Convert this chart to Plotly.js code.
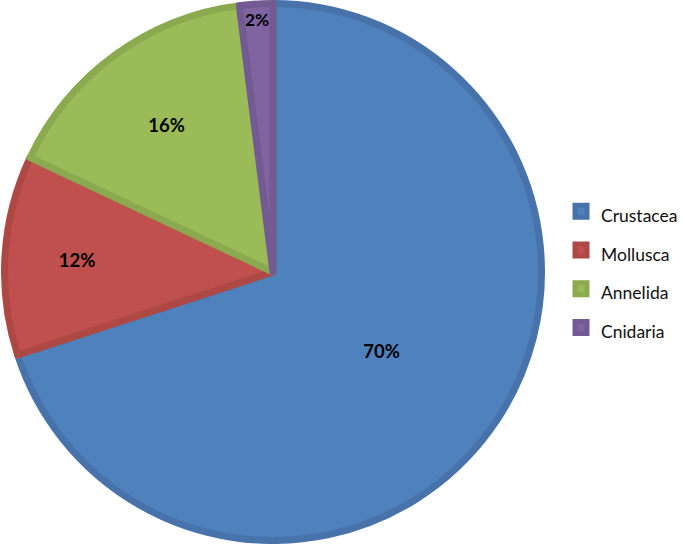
<!DOCTYPE html>
<html>
<head>
<meta charset="utf-8">
<script src="https://cdn.plot.ly/plotly-3.0.1.min.js"></script>
<style>
  html, body { margin: 0; padding: 0; background: #fff; }
  #chart { width: 685px; height: 544px; }
</style>
</head>
<body>
<div id="chart"></div>
<script>
// phylum share of specimens
var labels = ["Crustacea", "Mollusca", "Annelida", "Cnidaria"];
var values = [70, 12, 16, 2];
var fillColors = ["#4f81bd", "#c0504d", "#9bbb59", "#8064a2"];
var edgeColors = ["#4773aa", "#ad4845", "#8ba94f", "#735a92"];

// span trick so the legend rows get the wide spacing of the original
var legendLabels = labels.map(function(l){
  return '<span style="font-size:17.5px">' + l + '</span>';
});

var data = [{
  type: "pie",
  labels: legendLabels,
  values: values,
  sort: false,
  direction: "clockwise",
  rotation: 0,
  textinfo: "percent",
  textposition: "inside",
  insidetextorientation: "horizontal",
  textfont: {family: "Lato, 'Open Sans', sans-serif", size: 18.5, color: "#000", weight: "bold"},
  marker: {colors: fillColors, line: {color: edgeColors, width: 7}},
  domain: {x: [0.0066, 0.7905], y: [0.0064, 0.9936]},
  hoverinfo: "none"
}];

var layout = {
  width: 685,
  height: 544,
  margin: {l: 0, r: 0, t: 0, b: 0},
  paper_bgcolor: "#fff",
  showlegend: true,
  legend: {
    x: 0.819, xanchor: "left",
    y: 0.505, yanchor: "middle",
    font: {family: "Lato, 'Open Sans', sans-serif", size: 27.5, color: "#111"},
    bgcolor: "rgba(0,0,0,0)"
  }
};

Plotly.newPlot("chart", data, layout, {displayModeBar: false, staticPlot: true});
</script>
</body>
</html>
